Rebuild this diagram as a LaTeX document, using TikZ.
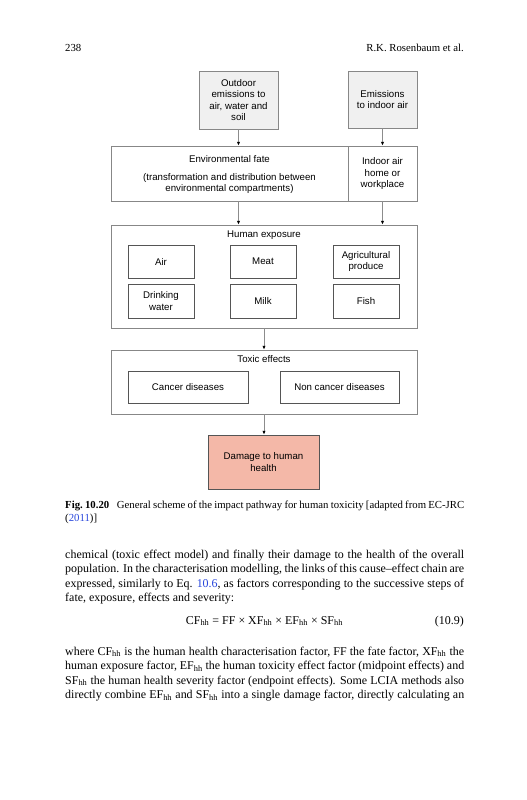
\documentclass[tikz,border=0pt]{standalone}
\usepackage{fontspec}
\setmainfont{Liberation Serif}
\newfontfamily\arialf{Liberation Sans}
\usetikzlibrary{arrows.meta}
\definecolor{linkblue}{RGB}{40,70,220}
\definecolor{outerline}{RGB}{135,135,135}
\definecolor{innerline}{RGB}{85,85,85}
\definecolor{srcfill}{RGB}{240,240,240}
\definecolor{dmgfill}{RGB}{244,184,168}
\definecolor{arrowgray}{RGB}{140,140,140}
\newcommand{\hh}{\textsubscript{hh}}
\newcommand{\jline}[1]{\makebox[333.8pt][s]{#1}}
\begin{document}
\begin{tikzpicture}[x=0.8367pt,y=-0.8367pt,
  sz/.style 2 args={minimum width=#1*0.8367pt, minimum height=#2*0.8367pt},
  dfont/.style={font=\arialf\fontsize{8.1}{9.7}\selectfont},
  outerbox/.style={draw=outerline, line width=0.6pt, fill=white, inner sep=0pt},
  srcbox/.style={outerbox, fill=srcfill, dfont, align=center},
  innerbox/.style={draw=innerline, line width=0.6pt, fill=white, dfont, align=center, inner sep=0pt},
  dmgbox/.style={draw=innerline, line width=0.6pt, fill=dmgfill, dfont, align=center, inner sep=0pt},
  lbl/.style={dfont, align=center, inner sep=0pt},
  flow/.style={draw=arrowgray, line width=0.65pt, -{Latex[length=3.2pt,width=2.8pt,color=black]}},
  body/.style={inner sep=0pt, anchor=base west, font=\fontsize{10}{12}\selectfont},
  capt/.style={inner sep=0pt, anchor=base west, font=\fontsize{9}{11}\selectfont},
  head/.style={inner sep=0pt, font=\fontsize{9}{11}\selectfont},
]
\fill[white] (0,0) rectangle (527,800);
\useasboundingbox (0,0) rectangle (527,800);

% running head
\node[head, anchor=base west] (pgnum) at (65,51) {238};
\node[head, anchor=base east] (runhead) at (464,51) {R.K. Rosenbaum et al.};

% source boxes
\node[srcbox, sz={79}{58}] (out) at (238.5,100) {Outdoor\\emissions to\\air, water and\\soil};
\node[srcbox, sz={69}{57}] (emi) at (382.5,99.5) {Emissions\\to indoor air};

% fate
\node[outerbox, sz={237}{55}] (env) at (229.5,173.5) {};
\node[lbl] (envt) at (229.5,159.5) {Environmental fate};
\node[lbl] (envd) at (229.5,183.5) {(transformation and distribution between\\environmental compartments)};
\node[outerbox, dfont, align=center, sz={69}{55}] (ind) at (382.5,173.5) {Indoor air\\home or\\workplace};

% exposure
\node[outerbox, sz={306}{103}] (exp) at (264,276.5) {};
\node[lbl] (expt) at (264,235.5) {Human exposure};
\node[innerbox, sz={66}{33}] (air) at (161,261.5) {Air};
\node[innerbox, sz={66}{33}] (meat) at (263,261.5) {Meat};
\node[innerbox, sz={66}{33}] (agri) at (366,261.5) {Agricultural\\produce};
\node[innerbox, sz={66}{34}] (drink) at (161,301) {Drinking\\water};
\node[innerbox, sz={66}{34}] (milk) at (263,301) {Milk};
\node[innerbox, sz={66}{34}] (fish) at (366,301) {Fish};

% toxic effects
\node[outerbox, sz={306}{64}] (tox) at (264,382) {};
\node[lbl] (toxt) at (264,359.5) {Toxic effects};
\node[innerbox, sz={120}{32}] (canc) at (188,387) {Cancer diseases};
\node[innerbox, sz={119}{32}] (ncanc) at (339.5,387) {Non cancer diseases};

% damage
\node[dmgbox, sz={111}{54}] (dmg) at (263.5,462) {Damage to human\\health};

% connectors
\draw[flow] (out.south) -- (out.south |- env.north);
\draw[flow] (emi.south) -- (emi.south |- ind.north);
\draw[flow] (out.south |- env.south) -- (out.south |- exp.north);
\draw[flow] (ind.south) -- (ind.south |- exp.north);
\draw[flow] (exp.south) -- (tox.north);
\draw[flow] (tox.south) -- (tox.south |- dmg.north);

% caption
\node[capt] (cap1) at (65,508) {\jline{\textbf{Fig.~10.20}\hspace{0.5em} General scheme of the impact pathway for human toxicity [adapted from EC-JRC}};
\node[capt] (cap2) at (65,521) {(\textcolor{linkblue}{2011})]};

% body text
\node[body] (b1) at (65,558) {\jline{chemical (toxic effect model) and finally their damage to the health of the overall}};
\node[body] (b2) at (65,572.5) {\jline{population. In the characterisation modelling, the links of this cause–effect chain are}};
\node[body] (b3) at (65,587) {\jline{expressed, similarly to Eq. \textcolor{linkblue}{10.6}, as factors corresponding to the successive steps of}};
\node[body] (b4) at (65,601.5) {fate, exposure, effects and severity:};

\node[body, anchor=base] (eq) at (264.5,624) {CF\hh\ = FF × XF\hh\ × EF\hh\ × SF\hh};
\node[body, anchor=base east] (eqno) at (464,624) {(10.9)};

\node[body] (c1) at (65,655) {\jline{where CF\hh\ is the human health characterisation factor, FF the fate factor, XF\hh\ the}};
\node[body] (c2) at (65,669.5) {\jline{human exposure factor, EF\hh\ the human toxicity effect factor (midpoint effects) and}};
\node[body] (c3) at (65,684) {\jline{SF\hh\ the human health severity factor (endpoint effects). Some LCIA methods also}};
\node[body] (c4) at (65,698.5) {\jline{directly combine EF\hh\ and SF\hh\ into a single damage factor, directly calculating an}};
\end{tikzpicture}
\end{document}
